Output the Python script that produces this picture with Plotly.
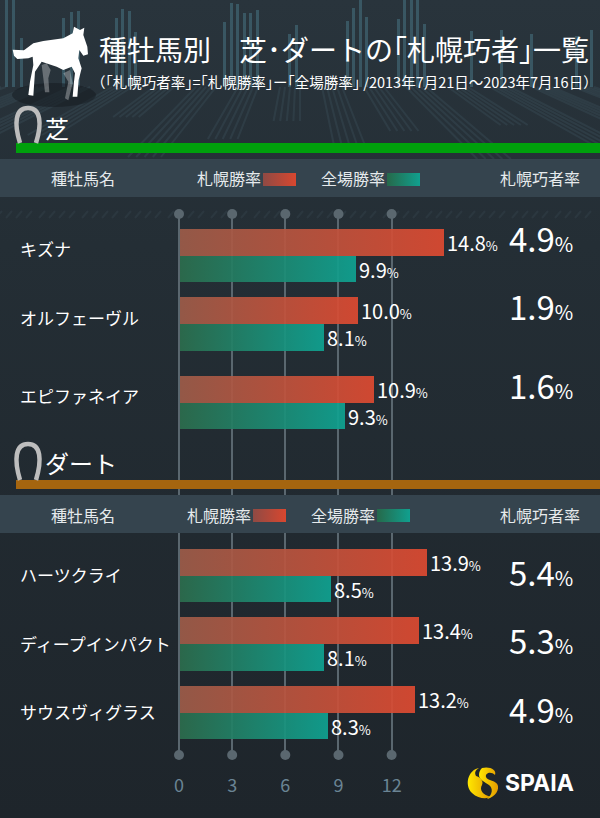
import base64
import plotly.graph_objects as go

# ---------- data ----------
turf_sires = ["キズナ", "オルフェーヴル", "エピファネイア"]
turf_sapporo = [14.8, 10.0, 10.9]
turf_all = [9.9, 8.1, 9.3]
turf_diff = [4.9, 1.9, 1.6]

dirt_sires = ["ハーツクライ", "ディープインパクト", "サウスヴィグラス"]
dirt_sapporo = [13.9, 13.4, 13.2]
dirt_all = [8.5, 8.1, 8.3]
dirt_diff = [5.4, 5.3, 4.9]

axis_ticks = [0, 3, 6, 9, 12]
title_text = "種牡馬別　芝･ダートの｢札幌巧者｣一覧"
subtitle_text = "（｢札幌巧者率｣=｢札幌勝率｣ー｢全場勝率｣ /2013年7月21日～2023年7月16日）"

# ---------- layout constants (pixels of the 600x818 page) ----------
W, H = 600, 818
FONT = "Noto Sans CJK JP"
RED_END, TEAL_END = "#de4a31", "#0fa392"
GRID = "#5a676f"
turf_rows = [(229, 282), (297, 351), (376, 429)]
dirt_rows = [(549, 602), (617, 671), (686, 739)]

# axis scales
GRID_X0, GRID_SCALE = 179.0, 17.72
BAR_X0, BAR_SCALE = 179.5, 17.84


def gx(px):
    return (px - GRID_X0) / GRID_SCALE


def px_x(px):
    return px / W


def px_y(py):
    return 1 - py / H


# ---------- decorative background ----------
bars_top = [(5, 0), (12, 0), (20, 38), (62, 18), (70, 12), (77, 11), (115, 18), (121, 9), (128, 11),
            (134, 32), (223, 22), (230, 3), (236, 4), (243, 13), (249, 13), (256, 10), (288, 34),
            (295, 25), (346, 21), (352, 8), (359, 0), (365, 17), (397, 19), (403, 0), (410, 0),
            (416, 0), (423, 24), (470, 31), (500, 30), (530, 34), (575, 36), (590, 30)]
bg = ['<svg xmlns="http://www.w3.org/2000/svg" width="600" height="818" viewBox="0 0 600 818">',
      '<defs><linearGradient id="bg" x1="0" y1="0" x2="0" y2="1">'
      '<stop offset="0" stop-color="#29343c"/><stop offset="0.3" stop-color="#242e35"/>'
      '<stop offset="1" stop-color="#1e252b"/></linearGradient></defs>',
      '<rect width="600" height="818" fill="url(#bg)"/>']
for bx, top in bars_top:
    bg.append(f'<rect x="{bx}" y="{top}" width="3" height="{87 - top}" fill="#3f6370" opacity="0.75"/>')
fan_lengths = [34, 58, 44, 72, 38, 64, 48, 30, 70, 52]
fan_i = 0
for cx in range(-560, 1180, 42):
    length = fan_lengths[fan_i % len(fan_lengths)]
    fan_i += 1
    for k in range(5):
        x0 = cx + k * 5
        dx = (x0 - 300) / 107
        bg.append(f'<line x1="{x0}" y1="87" x2="{x0 + dx * length:.1f}" y2="{87 + length}" '
                  'stroke="#46606c" stroke-width="2" opacity="0.25"/>')
for cx in range(8, 600, 43):
    bg.append(f'<path d="M{cx - 12},218 l6,-7 m4,7 l6,-7 m4,7 l6,-7 m4,7 l6,-7" stroke="#3d4d57" '
              'stroke-width="2" opacity="0.3" fill="none"/>')
bg.append('<ellipse cx="54" cy="95" rx="42" ry="12" fill="#161c21" opacity="0.55"/>')
bg.append('</svg>')

# ---------- decorative overlay: horse, track icons, legend swatches, logo ----------
horse = ("M222,35 L218,55 L190,70 L130,78 L100,85 L72,106 L38,104 L42,122 L52,132 L85,130 L98,125 "
         "L100,150 L90,200 L85,240 L100,242 L105,170 L125,140 L170,155 L190,165 L215,155 L225,175 "
         "L222,200 L218,245 L232,245 L236,195 L245,160 L235,130 L238,105 L250,122 L264,118 L262,95 "
         "L250,60 L253,38 L240,45 Z")
horse_back = ("M125,150 L130,190 L135,232 L148,232 L145,190 L152,165 L140,145 Z "
              "M190,175 L205,200 L195,250 L205,256 L218,205 L210,165 Z")
track = 'M20,{b} C14,{m} 15,{t} 28,{t} C41,{t} 42,{m} 36,{b}'


def swatch(x, y, gid):
    return f'<rect x="{x}" y="{y}" width="33" height="13" fill="url(#{gid})"/>'


fg = ['<svg xmlns="http://www.w3.org/2000/svg" width="600" height="818" viewBox="0 0 600 818">',
      '<defs>'
      '<linearGradient id="sr"><stop offset="0" stop-color="#8f4a44"/><stop offset="1" stop-color="#d8472f"/></linearGradient>'
      '<linearGradient id="st"><stop offset="0" stop-color="#26694a"/><stop offset="1" stop-color="#10a08f"/></linearGradient>'
      '<linearGradient id="ly"><stop offset="0" stop-color="#ffe800"/><stop offset="1" stop-color="#e39a00"/></linearGradient>'
      '</defs>',
      f'<path d="{horse_back}" transform="translate(0,15) scale(0.3333)" fill="#ffffff" opacity="0.3"/>',
      f'<path d="{horse}" transform="translate(0,15) scale(0.3333)" fill="#ffffff"/>',
      f'<path d="{track.format(t=108, m=124, b=143)}" fill="none" stroke="#bdbdbd" stroke-width="4.5"/>',
      f'<path d="{track.format(t=444, m=460, b=480)}" fill="none" stroke="#bdbdbd" stroke-width="4.5"/>',
      swatch(263, 173, "sr"), swatch(387, 173, "st"), swatch(253, 509, "sr"), swatch(377, 509, "st"),
      # logo
      '<path d="M479,768 C468,770 464,785 472,793 C478,799 487,799 491,797 C483,795 479,790 482,785 '
      'C484,781 480,777 476,776 C474,772 476,770 479,768 Z" fill="url(#ly)"/>',
      '<path d="M482,768 C490,766 497,770 495,775 C491,771 485,773 486,777 C487,781 497,780 498,786 '
      'C499,793 492,798 487,799 C493,794 493,788 489,785 C485,782 479,780 479,775 C479,772 480,770 482,768 Z" fill="url(#ly)"/>',
      '</svg>']


def uri(parts):
    return "data:image/svg+xml;base64," + base64.b64encode("".join(parts).encode()).decode()


# ---------- figure ----------
fig = go.Figure()

# main grid axis: spans the pixels between the two rows of dots
fig.add_trace(go.Scatter(x=axis_ticks * 2, y=[214] * 5 + [755] * 5, mode="markers",
                         xaxis="x", yaxis="y", cliponaxis=False, hoverinfo="skip", showlegend=False,
                         marker=dict(size=10, color=GRID)))

annotations = []
layout_axes = {}


def note(text, x, y, size, color="#ffffff", anchor="center", yref="paper", yshift=0, **kw):
    annotations.append(dict(text=text, x=x, y=y, xref="paper", yref=yref, xanchor=anchor, yanchor="middle",
                            showarrow=False, yshift=yshift, font=dict(family=FONT, size=size, color=color), **kw))


def pct(value, small):
    return f'{value:.1f}<span style="font-size:{small}px">%</span>'


axis_no = 2


def add_section(names, sapporo, overall, diff, rows, name_shift, diff_shift):
    global axis_no
    for name, a, b, d, (top, bottom) in zip(names, sapporo, overall, diff, rows):
        yname = f"y{axis_no}"
        layout_axes[f"yaxis{axis_no}"] = dict(domain=[px_y(bottom), px_y(top)], type="category", range=[0.5, -0.5],
                                              visible=False, anchor="x2", fixedrange=True)
        for val, col in ((a, RED_END), (b, TEAL_END)):
            fig.add_trace(go.Bar(x=[val], y=[name], orientation="h", xaxis="x2", yaxis=yname,
                                 marker=dict(color=col, opacity=0.92, line=dict(width=0)),
                                 text=[pct(val, 13)], textposition="outside", cliponaxis=False,
                                 constraintext="none", textfont=dict(family=FONT, size=20, color="#ffffff"),
                                 hoverinfo="skip", showlegend=False))
        note(name, px_x(18), name, 17, anchor="left", yref=yname, yshift=name_shift)
        note(pct(d, 20), px_x(541), name, 33, yref=yname, yshift=diff_shift)
        axis_no += 1


add_section(turf_sires, turf_sapporo, turf_all, turf_diff, turf_rows, 7, 18)
add_section(dirt_sires, dirt_sapporo, dirt_all, dirt_diff, dirt_rows, 1, 4)

# header text
note(title_text, px_x(97), px_y(49), 28, anchor="left")
note(subtitle_text, px_x(89), px_y(82), 14.5, anchor="left")
note("芝", px_x(43), px_y(127), 24, anchor="left")
note("ダート", px_x(43), px_y(462), 24, anchor="left")
for yy, x1, x2 in ((178, 229, 353), (515, 219, 343)):
    note("種牡馬名", px_x(83), px_y(yy), 16, color="#e6eaec")
    note("札幌勝率", px_x(x1), px_y(yy), 16, color="#e6eaec")
    note("全場勝率", px_x(x2), px_y(yy), 16, color="#e6eaec")
    note("札幌巧者率", px_x(540), px_y(yy), 16, color="#e6eaec")
annotations.append(dict(text="<b>SPAIA</b>", x=px_x(503), y=px_y(783), xref="paper", yref="paper", xanchor="left",
                        yanchor="middle", showarrow=False, font=dict(family="Inter", size=23, color="#ffffff")))

band = "#35444e"
shapes = [
    dict(type="rect", xref="paper", yref="paper", x0=px_x(16), x1=1, y0=px_y(153), y1=px_y(143),
         fillcolor="#00a00c", line_width=0, layer="below"),
    dict(type="rect", xref="paper", yref="paper", x0=0, x1=1, y0=px_y(197), y1=px_y(159),
         fillcolor=band, line_width=0, layer="below"),
    dict(type="rect", xref="x", yref="y", x0=gx(16), x1=gx(W), y0=489, y1=480,
         fillcolor="#a5650f", line_width=0, layer="between"),
    dict(type="rect", xref="x", yref="y", x0=gx(0), x1=gx(W), y0=533, y1=495,
         fillcolor=band, line_width=0, layer="between"),
]

fig.update_layout(
    width=W, height=H, autosize=False,
    margin=dict(l=0, r=0, t=0, b=0),
    paper_bgcolor="#20282f", plot_bgcolor="rgba(0,0,0,0)",
    barmode="group", bargap=0, bargroupgap=0,
    showlegend=False,
    font=dict(family=FONT),
    xaxis=dict(domain=[0, 1], range=[gx(0), gx(W)], tickvals=axis_ticks, showgrid=True, gridcolor=GRID, gridwidth=2,
               zeroline=False, showline=False, ticks="outside", ticklen=14, tickcolor="rgba(0,0,0,0)", anchor="y",
               tickfont=dict(family=FONT, size=18, color="#6a8494"), fixedrange=True),
    yaxis=dict(domain=[px_y(755), px_y(214)], range=[755, 214], visible=False, anchor="x", fixedrange=True),
    xaxis2=dict(domain=[0, 1], range=[-BAR_X0 / BAR_SCALE, (W - BAR_X0) / BAR_SCALE], visible=False,
                anchor="y2", fixedrange=True),
    annotations=annotations, shapes=shapes,
    images=[
        dict(source=uri(bg), xref="paper", yref="paper", x=0, y=1, sizex=1, sizey=1, sizing="stretch",
             xanchor="left", yanchor="top", layer="below"),
        dict(source=uri(fg), xref="paper", yref="paper", x=0, y=1, sizex=1, sizey=1, sizing="stretch",
             xanchor="left", yanchor="top", layer="above"),
    ],
    **layout_axes,
)

# Plotly bars have no gradient fill: attach SVG gradients to the drawn bars.
post = """
document.body.style.margin = '0';
document.documentElement.style.overflow = 'hidden';
var gd = document.getElementById('{plot_id}');
var NS = 'http://www.w3.org/2000/svg';
var svg = gd.querySelector('.main-svg');
var defs = document.createElementNS(NS, 'defs');
function grad(id, a, b) {
  var g = document.createElementNS(NS, 'linearGradient'); g.setAttribute('id', id);
  [[0, a], [1, b]].forEach(function (s) {
    var st = document.createElementNS(NS, 'stop');
    st.setAttribute('offset', s[0]); st.setAttribute('stop-color', s[1]); g.appendChild(st);
  });
  defs.appendChild(g);
}
grad('barRed', '#9d5c49', '%RED%');
grad('barTeal', '#2c6d4d', '%TEAL%');
svg.insertBefore(defs, svg.firstChild);
var red = 'rgb(222, 74, 49)', teal = 'rgb(15, 163, 146)';
gd.querySelectorAll('.barlayer .point path').forEach(function (p) {
  var f = getComputedStyle(p).fill;
  if (f === red) p.style.fill = 'url(#barRed)';
  else if (f === teal) p.style.fill = 'url(#barTeal)';
});
""".replace("%RED%", RED_END).replace("%TEAL%", TEAL_END)

fig.write_html("out.html", post_script=post, config={"displayModeBar": False})
